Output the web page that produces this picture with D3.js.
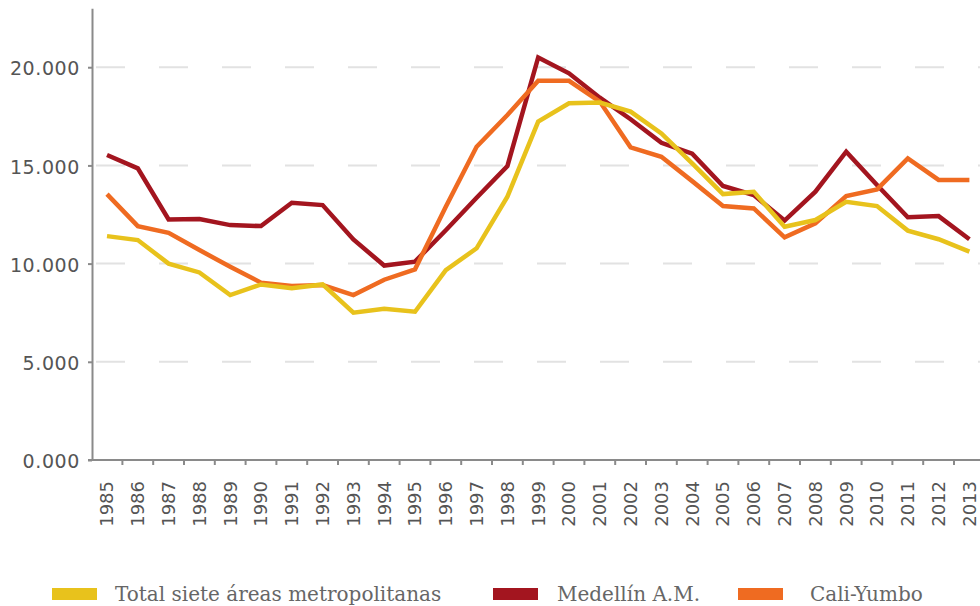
<!DOCTYPE html>
<html>
<head>
<meta charset="utf-8">
<script src="https://cdn.jsdelivr.net/npm/d3@7"></script>
<style>
  body { margin: 0; background: #fff; }
  svg { display: block; }
</style>
</head>
<body>
<div id="chart"></div>
<script>
// Years on the x axis (also the tick labels)
var years = ["1985","1986","1987","1988","1989","1990","1991","1992","1993","1994",
  "1995","1996","1997","1998","1999","2000","2001","2002","2003","2004",
  "2005","2006","2007","2008","2009","2010","2011","2012","2013"];

// Series values
var total = [11400,11200,10000,9550,8400,8940,8740,8940,7500,7700,
  7550,9670,10780,13410,17230,18160,18200,17740,16630,15100,
  13540,13660,11880,12220,13150,12930,11680,11240,10610];
var medellin = [15530,14850,12250,12270,11960,11910,13100,12980,11230,9900,
  10100,11700,13350,14970,20500,19690,18450,17350,16150,15600,
  13950,13490,12190,13660,15700,14000,12360,12420,11240];
var cali = [13540,11910,11570,10690,9840,9030,8860,8910,8400,9180,
  9710,12900,15950,17570,19310,19310,18250,15920,15440,14200,
  12930,12810,11340,12050,13440,13780,15360,14260,14260];

// y ticks and their labels
var yTicks = [0, 5000, 10000, 15000, 20000];
var yTickLabels = ["0.000", "5.000", "10.000", "15.000", "20.000"];

var seriesNames = ["Total siete áreas metropolitanas", "Medellín A.M.", "Cali-Yumbo"];

var width = 980, height = 606;
var colors = { total: "#e8c21c", medellin: "#a3151f", cali: "#ef6b21" };

var svg = d3.select("#chart").append("svg")
  .attr("width", width)
  .attr("height", height);

// Scales
var x = d3.scaleBand()
  .domain(years)
  .range([91.6, 984.8]);
var y = d3.scaleLinear()
  .domain([0, 23000])
  .range([460, 8.3]);

var cx = function(d, i) { return x(years[i]) + x.bandwidth() / 2; };

// Dashed grid lines
svg.append("g")
  .selectAll("line")
  .data(yTicks.filter(function(d) { return d > 0; }))
  .enter().append("line")
  .attr("x1", 96)
  .attr("x2", width)
  .attr("y1", function(d) { return y(d); })
  .attr("y2", function(d) { return y(d); })
  .attr("stroke", "#e2e2e2")
  .attr("stroke-width", 2)
  .attr("stroke-dasharray", "29 34");

// Y axis
var yAxis = d3.axisLeft(y)
  .tickValues(yTicks)
  .tickFormat(function(d, i) { return yTickLabels[i]; })
  .tickSizeInner(4)
  .tickSizeOuter(0)
  .tickPadding(8);

var gy = svg.append("g")
  .attr("transform", "translate(92,0)")
  .call(yAxis);
gy.select(".domain").attr("stroke", "#8a8a8a").attr("stroke-width", 2);
gy.selectAll(".tick line").attr("stroke", "#8a8a8a").attr("stroke-width", 2);
gy.selectAll(".tick text")
  .attr("fill", "#555")
  .attr("dy", "0.4em")
  .style("font-family", "'DejaVu Sans', sans-serif")
  .style("font-size", "19px")
  .style("letter-spacing", "0.6px");

// X axis: labels only, ticks drawn at band edges below
var xAxis = d3.axisBottom(x)
  .tickSize(0)
  .tickPadding(0);

var gx = svg.append("g")
  .attr("transform", "translate(0,460)")
  .call(xAxis);
gx.select(".domain").remove();
gx.selectAll(".tick text")
  .attr("fill", "#555")
  .attr("text-anchor", "end")
  .attr("transform", "rotate(-90)")
  .attr("x", -21)
  .attr("y", 0)
  .attr("dy", "0.36em")
  .style("font-family", "'DejaVu Sans', sans-serif")
  .style("font-size", "18px");

svg.append("line")
  .attr("x1", 88)
  .attr("x2", width)
  .attr("y1", 460)
  .attr("y2", 460)
  .attr("stroke", "#8a8a8a")
  .attr("stroke-width", 2);

svg.append("g")
  .selectAll("line")
  .data(years)
  .enter().append("line")
  .attr("x1", function(d) { return x(d) + x.bandwidth(); })
  .attr("x2", function(d) { return x(d) + x.bandwidth(); })
  .attr("y1", 460)
  .attr("y2", 465)
  .attr("stroke", "#8a8a8a")
  .attr("stroke-width", 2);

// Lines
var line = d3.line()
  .x(cx)
  .y(function(d) { return y(d); });

[["medellin", medellin], ["cali", cali], ["total", total]].forEach(function(s) {
  svg.append("path")
    .datum(s[1])
    .attr("fill", "none")
    .attr("stroke", colors[s[0]])
    .attr("stroke-width", 4.5)
    .attr("stroke-linejoin", "miter")
    .attr("d", line);
});

// Legend
var legendItems = [
  { name: seriesNames[0], color: colors.total, x: 52, gap: 63 },
  { name: seriesNames[1], color: colors.medellin, x: 493, gap: 64 },
  { name: seriesNames[2], color: colors.cali, x: 738, gap: 72 }
];
var legend = svg.append("g");
legendItems.forEach(function(d) {
  legend.append("rect")
    .attr("x", d.x)
    .attr("y", 588)
    .attr("width", 45)
    .attr("height", 12)
    .attr("fill", d.color);
  legend.append("text")
    .attr("x", d.x + d.gap)
    .attr("y", 601)
    .attr("fill", "#666")
    .style("font-family", "'DejaVu Serif', serif")
    .style("font-size", "20px")
    .text(d.name);
});
</script>
</body>
</html>
